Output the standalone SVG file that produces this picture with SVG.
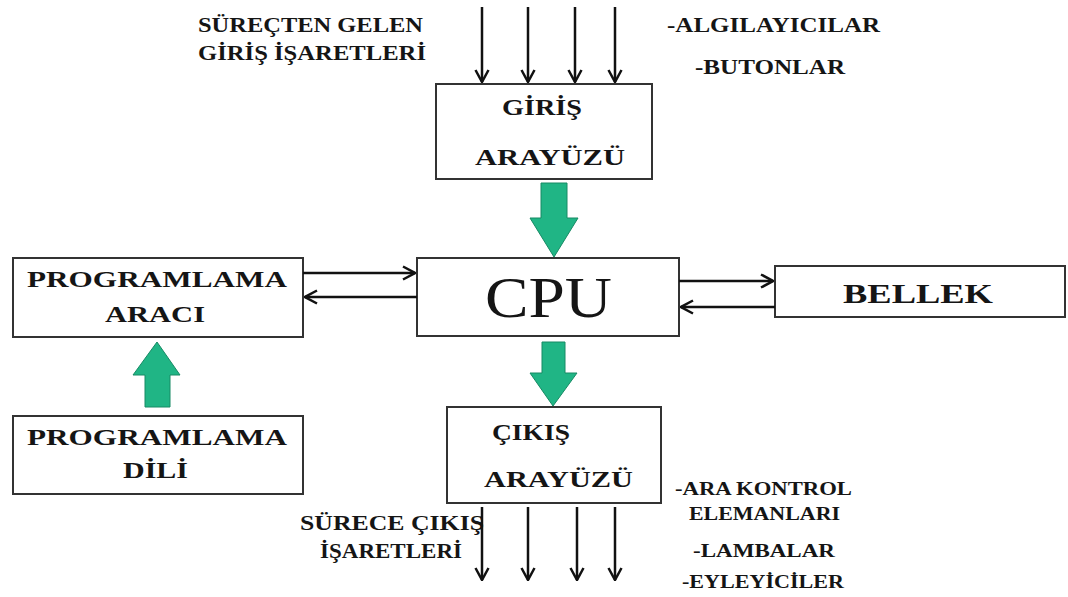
<svg xmlns="http://www.w3.org/2000/svg" width="1068" height="597" viewBox="0 0 1068 597">
<style>
.box{fill:#fff;stroke:#333;stroke-width:2}
.t{font-family:"Liberation Serif","Times New Roman",serif;font-weight:bold;fill:#151515}
.ln{stroke:#111;stroke-width:2.5;fill:none}
.big{fill:#20b585;stroke:#178a64;stroke-width:1}
</style>
<defs>
<marker id="ah" viewBox="0 0 14 16" refX="13" refY="8" markerWidth="14" markerHeight="16" markerUnits="userSpaceOnUse" orient="auto">
<path d="M1,1.5 L13,8 L1,14.5" fill="none" stroke="#111" stroke-width="2.5"/>
</marker>
</defs>
<rect width="1068" height="597" fill="#fff"/>

<g id="labels">
<text class="t" x="198" y="32" font-size="21" textLength="225" lengthAdjust="spacingAndGlyphs">SÜREÇTEN GELEN</text>
<text class="t" x="198" y="60" font-size="21" textLength="228" lengthAdjust="spacingAndGlyphs">GİRİŞ İŞARETLERİ</text>
<text class="t" x="667" y="32" font-size="21" textLength="213" lengthAdjust="spacingAndGlyphs">-ALGILAYICILAR</text>
<text class="t" x="695" y="74" font-size="21" textLength="150" lengthAdjust="spacingAndGlyphs">-BUTONLAR</text>
<text class="t" x="300" y="530" font-size="21" textLength="184" lengthAdjust="spacingAndGlyphs">SÜRECE ÇIKIŞ</text>
<text class="t" x="320" y="558" font-size="21" textLength="142" lengthAdjust="spacingAndGlyphs">İŞARETLERİ</text>
<text class="t" x="675" y="495" font-size="19" textLength="177" lengthAdjust="spacingAndGlyphs">-ARA KONTROL</text>
<text class="t" x="689" y="520" font-size="19" textLength="151" lengthAdjust="spacingAndGlyphs">ELEMANLARI</text>
<text class="t" x="693" y="557" font-size="19" textLength="142" lengthAdjust="spacingAndGlyphs">-LAMBALAR</text>
<text class="t" x="682" y="588" font-size="19" textLength="162" lengthAdjust="spacingAndGlyphs">-EYLEYİCİLER</text>
</g>

<g id="node-giris">
<rect class="box" x="436" y="84" width="216" height="95"/>
<text class="t" x="502" y="115" font-size="24" textLength="80" lengthAdjust="spacingAndGlyphs">GİRİŞ</text>
<text class="t" x="475" y="165" font-size="24" textLength="150" lengthAdjust="spacingAndGlyphs">ARAYÜZÜ</text>
</g>

<g id="node-cpu">
<rect class="box" x="417" y="258" width="262" height="78"/>
<text class="t" x="485" y="317" font-size="57" style="font-weight:normal" textLength="127" lengthAdjust="spacingAndGlyphs">CPU</text>
</g>

<g id="node-prog-araci">
<rect class="box" x="13" y="258" width="290" height="79"/>
<text class="t" x="27" y="287" font-size="23" textLength="260" lengthAdjust="spacingAndGlyphs">PROGRAMLAMA</text>
<text class="t" x="105" y="322" font-size="23" textLength="100" lengthAdjust="spacingAndGlyphs">ARACI</text>
</g>

<g id="node-bellek">
<rect class="box" x="775" y="266" width="290" height="51"/>
<text class="t" x="843" y="303" font-size="28" textLength="150" lengthAdjust="spacingAndGlyphs">BELLEK</text>
</g>

<g id="node-prog-dili">
<rect class="box" x="13" y="416" width="290" height="78"/>
<text class="t" x="27" y="445" font-size="23" textLength="260" lengthAdjust="spacingAndGlyphs">PROGRAMLAMA</text>
<text class="t" x="123" y="478" font-size="23" textLength="65" lengthAdjust="spacingAndGlyphs">DİLİ</text>
</g>

<g id="node-cikis">
<rect class="box" x="447" y="407" width="214" height="96"/>
<text class="t" x="492" y="440" font-size="24" textLength="78" lengthAdjust="spacingAndGlyphs">ÇIKIŞ</text>
<text class="t" x="484" y="487" font-size="24" textLength="149" lengthAdjust="spacingAndGlyphs">ARAYÜZÜ</text>
</g>

<g id="connectors">
<line class="ln" x1="482" y1="7" x2="482" y2="82" marker-end="url(#ah)"/>
<line class="ln" x1="528" y1="7" x2="528" y2="82" marker-end="url(#ah)"/>
<line class="ln" x1="575" y1="7" x2="575" y2="82" marker-end="url(#ah)"/>
<line class="ln" x1="615" y1="7" x2="615" y2="82" marker-end="url(#ah)"/>

<line class="ln" x1="482" y1="507" x2="482" y2="580" marker-end="url(#ah)"/>
<line class="ln" x1="528" y1="507" x2="528" y2="580" marker-end="url(#ah)"/>
<line class="ln" x1="577" y1="507" x2="577" y2="580" marker-end="url(#ah)"/>
<line class="ln" x1="615" y1="507" x2="615" y2="580" marker-end="url(#ah)"/>

<line class="ln" x1="303" y1="273" x2="415" y2="273" marker-end="url(#ah)"/>
<line class="ln" x1="417" y1="297" x2="305" y2="297" marker-end="url(#ah)"/>
<line class="ln" x1="679" y1="281" x2="773" y2="281" marker-end="url(#ah)"/>
<line class="ln" x1="775" y1="307" x2="681" y2="307" marker-end="url(#ah)"/>

<polygon class="big" points="541,183 567,183 567,218 578,218 554,257 530,218 541,218"/>
<polygon class="big" points="542,342 565,342 565,373 577,373 553,406 530,373 542,373"/>
<polygon class="big" points="145,407 170,407 170,375 180,375 157,342 133,375 145,375"/>
</g>
</svg>
